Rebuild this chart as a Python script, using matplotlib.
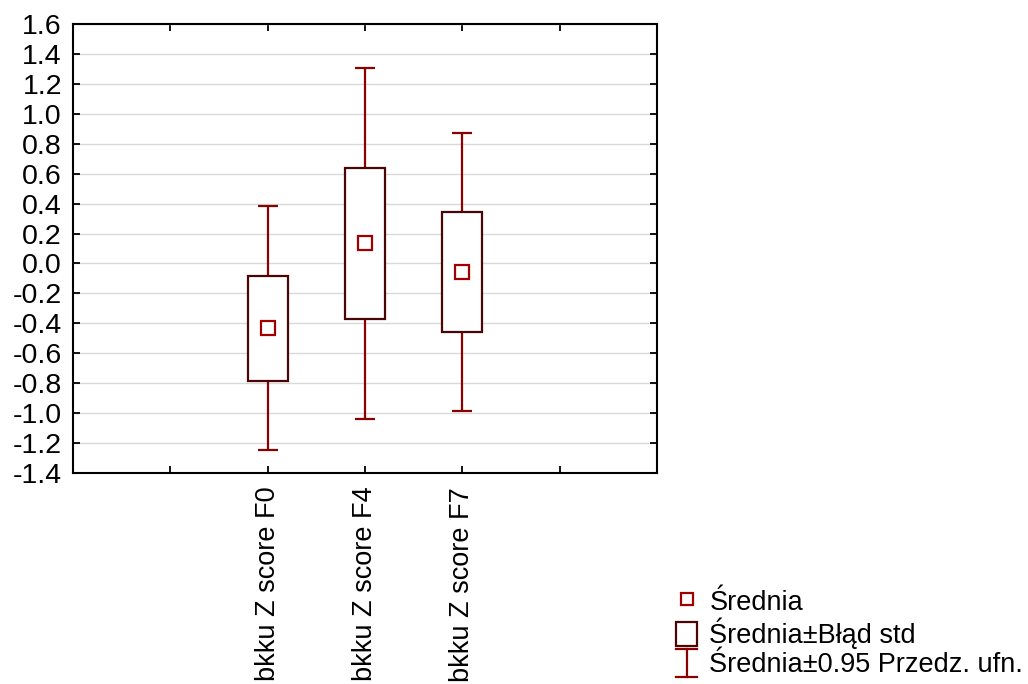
import numpy as np
import matplotlib
matplotlib.use("Agg")
import matplotlib.pyplot as plt
from matplotlib.lines import Line2D
from matplotlib.patches import Rectangle
from matplotlib.legend_handler import HandlerBase

# group means, standard errors and 95% CI half-widths
categories = ["bkku Z score F0", "bkku Z score F4", "bkku Z score F7"]
means = [-0.432, 0.134, -0.059]
std_err = [0.351, 0.507, 0.401]
ci_half = [0.813, 1.171, 0.928]

y_ticks = np.round(np.arange(-1.4, 1.61, 0.2), 1)

box_color = "#4a0505"
whisker_color = "#8b0000"
mean_color = "#a00000"

plt.rcParams["font.family"] = ["Liberation Sans", "DejaVu Sans"]
fs = 19.5

fig = plt.figure(figsize=(10.28, 6.84), dpi=100)
ax = fig.add_axes([0.071, 0.3085, 0.568, 0.6564])

x = np.arange(len(categories)) + 2

means = np.array(means)
std_err = np.array(std_err)
ci_half = np.array(ci_half)

# confidence interval whiskers
ax.errorbar(x, means, yerr=ci_half, fmt="none", ecolor=whisker_color,
            elinewidth=1.6, capsize=7.5, capthick=1.6, zorder=3)
# mean +/- standard error boxes
ax.bar(x, 2 * std_err, bottom=means - std_err, width=0.41,
       facecolor="white", edgecolor=box_color, linewidth=1.6, zorder=4)
# means
ax.plot(x, means, "s", ms=9.5, mfc="white", mec=mean_color, mew=1.6, zorder=5)

ax.set_xlim(0, 6)
ax.set_ylim(-1.4, 1.6)
ax.set_yticks(y_ticks)
ax.set_yticklabels([f"{v + 0.0:.1f}".replace("-0.0", "0.0") for v in y_ticks],
                   fontsize=20.5)
ax.set_xticks(x)
ax.set_xticklabels(categories, rotation=90, fontsize=fs, va="top")
ax.set_xticks([1, 5], minor=True)

ax.yaxis.grid(True, color="#d9d9d9", linewidth=1.0, zorder=0)
ax.set_axisbelow(True)

ax.tick_params(axis="both", which="both", direction="in", length=5, width=1.3,
               top=True, right=True, colors="black")
ax.tick_params(axis="y", pad=8)
ax.tick_params(axis="x", pad=10)
for s in ax.spines.values():
    s.set_linewidth(1.5)
    s.set_color("black")


class HandlerBoxSym(HandlerBase):
    def create_artists(self, legend, orig_handle, xdescent, ydescent,
                       width, height, fontsize, trans):
        r = Rectangle((-xdescent, -ydescent - 0.03 * height), width, height * 1.06,
                      facecolor="white", edgecolor=box_color, linewidth=1.6,
                      transform=trans)
        return [r]


class HandlerCI(HandlerBase):
    def create_artists(self, legend, orig_handle, xdescent, ydescent,
                       width, height, fontsize, trans):
        cx = width / 2 - xdescent
        y0 = -ydescent - 0.13 * height
        y1 = height - ydescent + 0.1 * height
        segs = [([cx, cx], [y0, y1]),
                ([-xdescent, width - xdescent], [y0, y0]),
                ([-xdescent, width - xdescent], [y1, y1])]
        out = []
        for xs, ys in segs:
            ln = Line2D(xs, ys, color=whisker_color, linewidth=1.6)
            ln.set_transform(trans)
            out.append(ln)
        return out


mean_h = Line2D([], [], marker="s", ls="none", ms=9, mfc="white",
                mec=mean_color, mew=1.6)
box_h = Rectangle((0, 0), 1, 1)
ci_h = Line2D([], [])

fig.legend([mean_h, box_h, ci_h],
           ["Średnia", "Średnia±Błąd std", "Średnia±0.95 Przedz. ufn."],
           handler_map={box_h: HandlerBoxSym(), ci_h: HandlerCI()},
           loc="upper left", bbox_to_anchor=(676 / 1028, 1 - 589 / 684),
           frameon=False, fontsize=fs, handlelength=0.78, handleheight=0.9,
           handletextpad=0.45, labelspacing=0.08, borderpad=0, borderaxespad=0)

fig.savefig("out.png", dpi=100)
